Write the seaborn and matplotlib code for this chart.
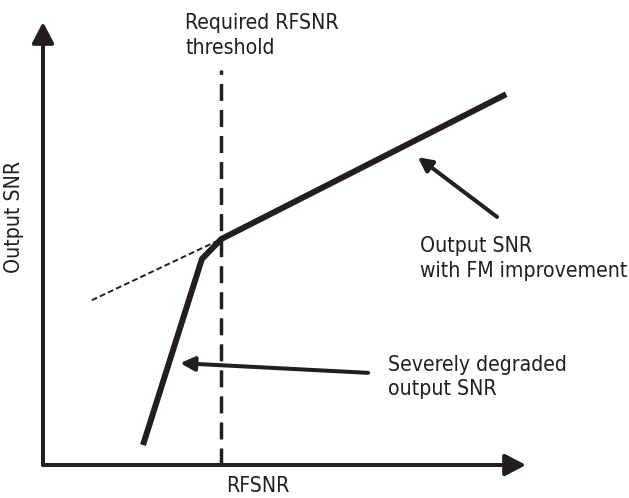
import matplotlib
matplotlib.use("Agg")
import matplotlib.pyplot as plt
import seaborn as sns

# datos del diagrama (unidades arbitrarias, ejes 0..10)
rfsnr = [2.07, 3.29, 3.69, 9.59]
output_snr = [0.45, 4.65, 5.10, 8.37]
# extension lineal de la mejora FM por debajo del umbral
ext_rfsnr = [1.01, 3.69]
ext_snr = [3.72, 5.10]
umbral = 3.69
umbral_top = 8.92
# flechas de anotacion: (cola, punta)
flecha_fm = ((9.40, 5.60), (7.76, 6.95))
flecha_deg = ((6.73, 2.08), (2.84, 2.30))

negro = "#231f20"

sns.set_theme(style="white")
plt.rcParams["font.family"] = ["DejaVu Sans"]
plt.rcParams["font.stretch"] = "condensed"
fs = 15.2

fig = plt.figure(figsize=(6.29, 4.98), dpi=100)
W, H = 629, 498
ax = fig.add_axes([43 / W, (H - 465) / H, (526 - 43) / W, (465 - 22) / H])
ax.set_xlim(0, 10)
ax.set_ylim(0, 10)
for s in ax.spines.values():
    s.set_visible(False)
ax.set_xticks([])
ax.set_yticks([])

# ejes con flecha
ejes = dict(arrowstyle="-|>,head_length=1.05,head_width=0.55", lw=2.9,
            color=negro, shrinkA=0, shrinkB=0)
ax.annotate("", xy=(1, 0), xytext=(0, 0), xycoords="axes fraction", arrowprops=ejes)
ax.annotate("", xy=(0, 1), xytext=(0, 0), xycoords="axes fraction", arrowprops=ejes)

# umbral requerido
ax.plot([umbral, umbral], [0, umbral_top], color=negro, lw=2.5,
        linestyle=(0, (4.9, 2.6)))

# extension punteada
sns.lineplot(x=ext_rfsnr, y=ext_snr, ax=ax, color=negro, lw=1.4,
             linestyle=(0, (3, 1.6)))

# curva de SNR de salida
sns.lineplot(x=rfsnr, y=output_snr, ax=ax, color=negro, lw=4.3,
             solid_joinstyle="miter", solid_capstyle="butt")

flecha = dict(arrowstyle="-|>,head_length=0.7,head_width=0.35", lw=2.9,
              color=negro, shrinkA=0, shrinkB=0)
ax.annotate("", xy=flecha_fm[1], xytext=flecha_fm[0], arrowprops=flecha)
ax.annotate("", xy=flecha_deg[1], xytext=flecha_deg[0], arrowprops=flecha)

# textos
ax.text(2.94, 10.2, "Required RFSNR\nthreshold", fontsize=fs, color=negro,
        ha="left", va="top", linespacing=1.3, clip_on=False)
ax.text(7.81, 5.17, "Output SNR\nwith FM improvement", fontsize=fs, color=negro,
        ha="left", va="top", linespacing=1.3, clip_on=False)
ax.text(7.14, 2.49, "Severely degraded\noutput SNR", fontsize=fs, color=negro,
        ha="left", va="top", linespacing=1.3, clip_on=False)
ax.text(4.45, -0.60, "RFSNR", fontsize=fs, color=negro,
        ha="center", va="baseline", clip_on=False)
ax.text(-0.60, 5.6, "Output SNR", fontsize=fs, color=negro, rotation=90,
        ha="center", va="center", clip_on=False)

fig.savefig("out.png", dpi=100)
